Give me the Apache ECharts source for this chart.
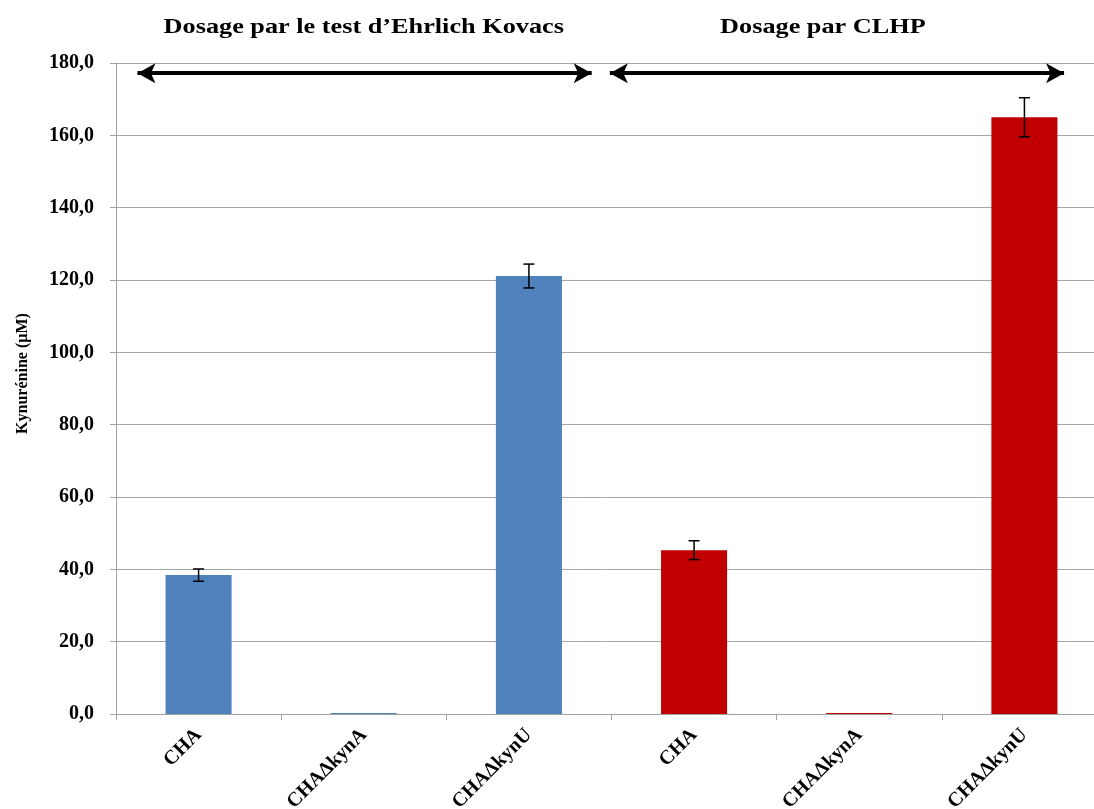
<!DOCTYPE html>
<html><head><meta charset="utf-8">
<script src="https://cdn.jsdelivr.net/npm/echarts@6/dist/echarts.min.js"></script>
<style>html,body{margin:0;padding:0;background:#fff}#c{width:1094px;height:809px}</style>
</head><body><div id="c"></div>
<script>
const categories = ['CHA', 'CHA\u0394kynA', 'CHA\u0394kynU', 'CHA', 'CHA\u0394kynA', 'CHA\u0394kynU'];
const values = [38.4, 0.3, 121.1, 45.3, 0.3, 165.0];
const errors = [1.7, 0, 3.3, 2.6, 0, 5.4];
const groupTitles = ['Dosage par le test d\u2019Ehrlich Kovacs', 'Dosage par CLHP'];
const titleCenters = [1.5, 4.28];
const yTicks = [0, 20, 40, 60, 80, 100, 120, 140, 160, 180];
const arrowSpans = [[0.13, 2.88], [2.99, 5.74]];
const arrowLevel = 177.2;
const groupColors = ['#4F81BD', '#C00000'];

const serif = '"Liberation Serif", "DejaVu Serif", serif';
const chart = echarts.init(document.getElementById('c'));
const option = {
  animation: false,
  backgroundColor: '#fff',
  grid: {left: 116, width: 991, top: 63, bottom: 95, containLabel: false, outerBoundsMode: 'none'},
  xAxis: [{
    type: 'category', data: categories,
    axisLine: {lineStyle: {color: '#A0A0A0', width: 1}},
    axisTick: {show: true, length: 6, lineStyle: {color: '#A0A0A0'}},
    axisLabel: {rotate: 45, margin: 18, fontFamily: serif, fontWeight: 'bold', fontSize: 20, color: '#000'}
  }, {
    type: 'value', min: 0, max: 6, show: false
  }],
  yAxis: {
    type: 'value', min: 0, max: 180, interval: 20,
    name: 'Kynurénine (µM)', nameLocation: 'middle', nameGap: 85, nameRotate: 90,
    nameTextStyle: {fontFamily: serif, fontWeight: 'bold', fontSize: 16, color: '#000', padding: [0, 0, 0, 30]},
    axisLine: {show: true, lineStyle: {color: '#A0A0A0'}},
    axisTick: {show: true, length: 6, lineStyle: {color: '#A0A0A0'}},
    splitLine: {lineStyle: {color: '#A6A6A6', width: 1}},
    axisLabel: {margin: 22, fontFamily: serif, fontWeight: 'bold', fontSize: 20, color: '#000',
      formatter: v => yTicks.includes(v) ? v.toFixed(1).replace('.', ',') : ''}
  },
  series: [{
    type: 'bar', data: values, barCategoryGap: '60%',
    itemStyle: {color: p => groupColors[p.dataIndex < 3 ? 0 : 1]}
  }, {
    type: 'custom', data: values.map((v, i) => [i, v, errors[i]]),
    z: 5,
    renderItem: (params, api) => {
      const i = api.value(0), v = api.value(1), e = api.value(2);
      if (!e) return null;
      const top = api.coord([i, v + e]);
      const bot = api.coord([i, v - e]);
      const half = 5.5;
      const st = {stroke: '#000', lineWidth: 1.5};
      return {type: 'group', children: [
        {type: 'line', shape: {x1: top[0], y1: top[1], x2: bot[0], y2: bot[1]}, style: st},
        {type: 'line', shape: {x1: top[0] - half, y1: top[1], x2: top[0] + half, y2: top[1]}, style: st},
        {type: 'line', shape: {x1: bot[0] - half, y1: bot[1], x2: bot[0] + half, y2: bot[1]}, style: st}
      ]};
    }
  }, {
    type: 'scatter', xAxisIndex: 1, data: [], silent: true,
    markLine: {
      silent: true, symbol: ['arrow', 'arrow'], symbolSize: [15, 18],
      label: {show: false},
      lineStyle: {color: '#000', width: 4, type: 'solid'},
      data: arrowSpans.map(s => [{coord: [s[0], arrowLevel]}, {coord: [s[1], arrowLevel]}])
    }
  }]
};
chart.setOption(option);
const titles = groupTitles.map((t, k) => {
  const x = chart.convertToPixel({xAxisIndex: 1}, titleCenters[k]);
  return {type: 'text', x: x, y: 28, scaleX: 1.25, originX: 0, originY: 0,
    style: {text: t, align: 'center', verticalAlign: 'middle', fill: '#000',
      font: 'bold 21px ' + serif}};
});
chart.setOption({graphic: titles});
</script></body></html>
